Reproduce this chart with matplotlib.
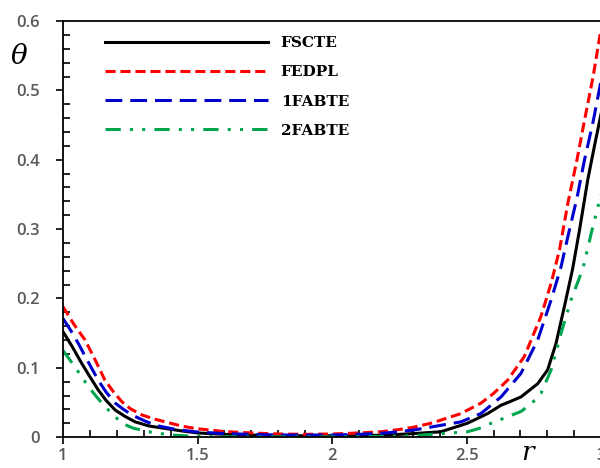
import matplotlib
matplotlib.use("Agg")
import matplotlib.pyplot as plt
from matplotlib.ticker import MultipleLocator, FixedLocator

# Temperature profiles theta(r) for four heat-conduction models
r_fscte = [1.0, 1.035, 1.07, 1.10, 1.131, 1.16, 1.194, 1.23, 1.268, 1.32, 1.38, 1.44, 1.5,
           1.6, 1.7, 1.8, 1.9, 2.0, 2.1, 2.2, 2.3, 2.404, 2.503, 2.578, 2.628, 2.66, 2.702,
           2.764, 2.801, 2.832, 2.863, 2.894, 2.92, 2.95, 2.975, 3.0]
th_fscte = [0.152, 0.13, 0.106, 0.087, 0.068, 0.053, 0.039, 0.030, 0.022, 0.016, 0.0125, 0.009, 0.006,
            0.004, 0.003, 0.002, 0.002, 0.002, 0.002, 0.003, 0.005, 0.0077, 0.020, 0.034, 0.046, 0.051, 0.058,
            0.077, 0.097, 0.135, 0.188, 0.243, 0.30, 0.371, 0.42, 0.467]

r_fedpl = [1.0, 1.04, 1.082, 1.12, 1.156, 1.19, 1.219, 1.25, 1.293, 1.34, 1.38, 1.44, 1.49,
           1.6, 1.7, 1.8, 1.9, 2.0, 2.1, 2.18, 2.25, 2.3, 2.367, 2.404, 2.479, 2.553, 2.6,
           2.652, 2.714, 2.776, 2.814, 2.845, 2.876, 2.91, 2.938, 2.97, 3.0]
th_fedpl = [0.188, 0.163, 0.140, 0.111, 0.082, 0.064, 0.051, 0.041, 0.032, 0.026, 0.022, 0.016, 0.0125,
            0.008, 0.006, 0.0045, 0.004, 0.0045, 0.006, 0.0077, 0.011, 0.014, 0.020, 0.0245, 0.034, 0.049, 0.063,
            0.082, 0.116, 0.174, 0.222, 0.27, 0.337, 0.40, 0.457, 0.52, 0.59]

r_1fabte = [1.0, 1.03, 1.057, 1.09, 1.131, 1.16, 1.194, 1.225, 1.256, 1.3, 1.343, 1.42, 1.49,
            1.6, 1.7, 1.8, 1.9, 2.0, 2.1, 2.2, 2.3, 2.404, 2.479, 2.553, 2.628, 2.702, 2.764,
            2.814, 2.851, 2.876, 2.91, 2.938, 2.97, 3.0]
th_1fabte = [0.171, 0.153, 0.135, 0.111, 0.082, 0.065, 0.049, 0.040, 0.032, 0.024, 0.017, 0.011, 0.0077,
             0.005, 0.004, 0.003, 0.003, 0.003, 0.004, 0.006, 0.010, 0.017, 0.022, 0.034, 0.058, 0.092, 0.140,
             0.198, 0.246, 0.289, 0.345, 0.40, 0.455, 0.515]

r_2fabte = [1.0, 1.045, 1.094, 1.125, 1.156, 1.19, 1.219, 1.26, 1.318, 1.40, 1.5, 1.6, 1.8,
            2.0, 2.2, 2.3, 2.404, 2.503, 2.55, 2.603, 2.65, 2.702, 2.74, 2.776, 2.814, 2.851,
            2.888, 2.932, 2.963, 3.0]
th_2fabte = [0.125, 0.101, 0.073, 0.058, 0.044, 0.031, 0.020, 0.013, 0.0077, 0.003, 0.001, 0.0005, 0.0003,
             0.0003, 0.001, 0.002, 0.005, 0.0077, 0.013, 0.022, 0.029, 0.037, 0.048, 0.063, 0.097, 0.15,
             0.198, 0.243, 0.294, 0.351]

labels = ["FSCTE", "FEDPL", "1FABTE", "2FABTE"]
x_ticks = [1, 1.5, 2, 2.5, 3]
x_tick_labels = ["1", "1.5", "2", "2.5", "3"]
y_ticks = [0, 0.1, 0.2, 0.3, 0.4, 0.5, 0.6]
y_tick_labels = ["0", "0.1", "0.2", "0.3", "0.4", "0.5", "0.6"]

fig = plt.figure(figsize=(6.0, 4.68), dpi=100)
ax = fig.add_axes([0.105, 0.066, 0.897, 0.889])

lw = 2.2
ax.plot(r_fscte, th_fscte, color="black", lw=lw, label=labels[0])
ax.plot(r_fedpl, th_fedpl, color="#ff0000", lw=lw, dashes=(3.3, 1.6), label=labels[1])
ax.plot(r_1fabte, th_1fabte, color="#0000cc", lw=lw, dashes=(5.5, 2.6), label=labels[2])
ax.plot(r_2fabte, th_2fabte, color="#00a550", lw=lw, dashes=(5, 3, 1, 3, 1, 3), label=labels[3])

ax.set_xlim(1, 3)
ax.set_ylim(0, 0.6)

ax.spines["right"].set_visible(False)
for s in ("left", "bottom", "top"):
    ax.spines[s].set_linewidth(1.3)

ax.xaxis.set_major_locator(FixedLocator(x_ticks))
ax.set_xticklabels(x_tick_labels)
ax.xaxis.set_minor_locator(MultipleLocator(0.1))
ax.yaxis.set_major_locator(FixedLocator(y_ticks))
ax.set_yticklabels(y_tick_labels)
ax.yaxis.set_minor_locator(MultipleLocator(0.02))

ax.tick_params(which="major", direction="out", length=5, width=1.2, top=False, right=False)
ax.tick_params(which="minor", direction="in", length=5, width=1.2, top=False, right=False)
ax.tick_params(axis="x", which="major", pad=3)
ax.tick_params(axis="y", which="major", pad=12)
for t in ax.get_xticklabels() + ax.get_yticklabels():
    t.set_fontfamily("Open Sans")
    t.set_fontweight("semibold")
    t.set_fontsize(12)
    t.set_color("#595959")

fig.text(19 / 600, 1 - 57 / 468, "θ", fontsize=20, style="italic", ha="center", va="center",
         family="DejaVu Serif")
fig.text(527 / 600, 1 - 460 / 468, "r", fontsize=19, style="italic", ha="center", va="baseline",
         family="DejaVu Serif")

leg = ax.legend(loc="upper left", bbox_to_anchor=(105 / 600, 1 - 36 / 468),
                bbox_transform=fig.transFigure, frameon=False, borderpad=0, borderaxespad=0,
                handlelength=10.7, handletextpad=0.8, labelspacing=1.0,
                prop={"family": "DejaVu Serif", "weight": "bold", "size": 11})

fig.savefig("out.png", dpi=100)
